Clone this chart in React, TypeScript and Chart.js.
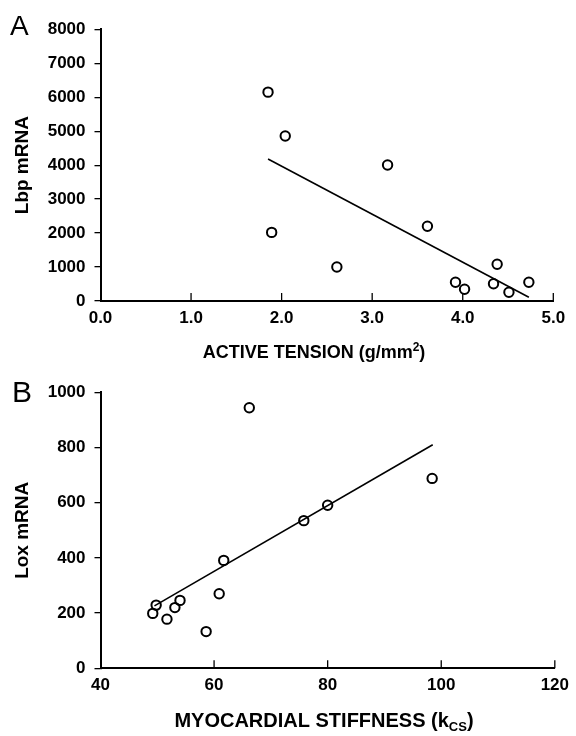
import React, { useEffect, useRef } from "react";
import { Chart, registerables } from "chart.js";

Chart.register(...registerables);

const FONT = '"Liberation Sans", Arial, Helvetica, sans-serif';

// Panel A: Lbp mRNA vs active tension
const tensionX = [1.85, 2.04, 1.89, 2.61, 3.17, 3.61, 3.92, 4.02, 4.34, 4.38, 4.51, 4.73];
const lbpY = [6150, 4860, 2020, 1000, 4005, 2200, 550, 345, 510, 1080, 256, 550];
const trendAX = [1.85, 4.73];
const trendAY = [4180, 110];
const xTicksA = [0, 1, 2, 3, 4, 5];
const yTicksA = [0, 1000, 2000, 3000, 4000, 5000, 6000, 7000, 8000];

// Panel B: Lox mRNA vs myocardial stiffness
const stiffX = [66.2, 98.4, 80.0, 75.8, 61.7, 60.9, 58.6, 49.8, 49.2, 51.7, 53.1, 54.0];
const loxY = [944, 688, 591, 535, 391, 270, 133, 229, 199, 178, 220, 246];
const trendBX = [49.5, 98.5];
const trendBY = [226, 810];
const xTicksB = [40, 60, 80, 100, 120];
const yTicksB = [0, 200, 400, 600, 800, 1000];

type Part = { text: string; size: number; dy: number };

type Spec = {
  xs: number[];
  ys: number[];
  tx: number[];
  ty: number[];
  xTicks: number[];
  yTicks: number[];
  xFmt: (v: number) => string;
  letter: string;
  letterSize: number;
  letterX: number;
  letterY: number;
  yTitle: string;
  xTitle: Part[];
  xTitleCenter: number;
  xTitleBaseline: number;
  area: { left: number; top: number; right: number; bottom: number };
  height: number;
};

function makePlugin(spec: Spec) {
  return {
    id: "annot",
    afterDraw(chart: any) {
      const ctx = chart.ctx as CanvasRenderingContext2D;
      const xs = chart.scales.x;
      const area = chart.chartArea;
      ctx.save();
      ctx.strokeStyle = "#000";
      ctx.fillStyle = "#000";
      ctx.lineWidth = 1.3;
      xs.ticks.forEach((t: any, i: number) => {
        if (i === 0) return;
        const px = xs.getPixelForValue(t.value);
        ctx.beginPath();
        ctx.moveTo(px, area.bottom);
        ctx.lineTo(px, area.bottom - 8);
        ctx.stroke();
      });
      ctx.font = `${spec.letterSize}px ${FONT}`;
      ctx.textAlign = "left";
      ctx.textBaseline = "alphabetic";
      ctx.fillText(spec.letter, spec.letterX, spec.letterY);

      ctx.save();
      ctx.translate(28, (area.top + area.bottom) / 2);
      ctx.rotate(-Math.PI / 2);
      ctx.font = `bold 19px ${FONT}`;
      ctx.textAlign = "center";
      ctx.fillText(spec.yTitle, 0, 0);
      ctx.restore();

      let total = 0;
      const widths = spec.xTitle.map((p) => {
        ctx.font = `bold ${p.size}px ${FONT}`;
        const w = ctx.measureText(p.text).width;
        total += w;
        return w;
      });
      let x = spec.xTitleCenter - total / 2;
      ctx.textAlign = "left";
      spec.xTitle.forEach((p, i) => {
        ctx.font = `bold ${p.size}px ${FONT}`;
        ctx.fillText(p.text, x, spec.xTitleBaseline + p.dy);
        x += widths[i];
      });
      ctx.restore();
    },
  };
}

function buildChart(canvas: HTMLCanvasElement, spec: Spec) {
  const tickFont = { family: FONT, size: 17, weight: "bold" as const };
  return new Chart(canvas, {
    type: "scatter",
    data: {
      datasets: [
        {
          data: spec.tx.map((v, i) => ({ x: v, y: spec.ty[i] })),
          showLine: true,
          borderColor: "#000",
          borderWidth: 1.6,
          pointRadius: 0,
          fill: false,
        },
        {
          data: spec.xs.map((v, i) => ({ x: v, y: spec.ys[i] })),
          pointRadius: 4.7,
          pointBorderWidth: 2,
          pointBorderColor: "#000",
          pointBackgroundColor: "rgba(0,0,0,0)",
          pointStyle: "circle",
        },
      ],
    },
    options: {
      animation: false,
      responsive: false,
      devicePixelRatio: 1,
      layout: {
        padding: {
          top: spec.area.top,
          left: 0,
          right: 576 - spec.area.right,
          bottom: 0,
        },
      },
      plugins: { legend: { display: false }, tooltip: { enabled: false } },
      scales: {
        x: {
          type: "linear",
          min: spec.xTicks[0],
          max: spec.xTicks[spec.xTicks.length - 1],
          afterBuildTicks: (s: any) => {
            s.ticks = spec.xTicks.map((v) => ({ value: v }));
          },
          ticks: {
            font: tickFont,
            color: "#000",
            padding: 7,
            maxRotation: 0,
            autoSkip: false,
            callback: (v: any) => spec.xFmt(Number(v)),
          },
          grid: { display: false, drawTicks: false },
          border: { display: true, color: "#000", width: 2 },
          afterFit: (s: any) => {
            s.height = spec.height - spec.area.bottom;
          },
        },
        y: {
          type: "linear",
          min: spec.yTicks[0],
          max: spec.yTicks[spec.yTicks.length - 1],
          afterBuildTicks: (s: any) => {
            s.ticks = spec.yTicks.map((v) => ({ value: v }));
          },
          ticks: {
            font: tickFont,
            color: "#000",
            padding: 9,
            autoSkip: false,
            callback: (v: any) => String(v),
          },
          grid: {
            display: true,
            drawOnChartArea: false,
            drawTicks: true,
            tickLength: 6,
            color: "#000",
            lineWidth: 1.3,
          },
          border: { display: true, color: "#000", width: 2 },
          afterFit: (s: any) => {
            s.width = spec.area.left;
          },
        },
      },
    },
    plugins: [makePlugin(spec)],
  } as any);
}

const H = 368;

const specA: Spec = {
  xs: tensionX,
  ys: lbpY,
  tx: trendAX,
  ty: trendAY,
  xTicks: xTicksA,
  yTicks: yTicksA,
  xFmt: (v) => v.toFixed(1),
  letter: "A",
  letterSize: 28,
  letterX: 10,
  letterY: 35,
  yTitle: "Lbp mRNA",
  xTitle: [
    { text: "ACTIVE TENSION (g/mm", size: 18, dy: 0 },
    { text: "2", size: 12, dy: -7 },
    { text: ")", size: 18, dy: 0 },
  ],
  xTitleCenter: 314,
  xTitleBaseline: 358,
  area: { left: 100.5, top: 29.3, right: 553.3, bottom: 301 },
  height: H,
};

const specB: Spec = {
  xs: stiffX,
  ys: loxY,
  tx: trendBX,
  ty: trendBY,
  xTicks: xTicksB,
  yTicks: yTicksB,
  xFmt: (v) => String(v),
  letter: "B",
  letterSize: 30,
  letterX: 12,
  letterY: 33.7,
  yTitle: "Lox mRNA",
  xTitle: [
    { text: "MYOCARDIAL STIFFNESS (k", size: 20, dy: 0 },
    { text: "CS", size: 13, dy: 4 },
    { text: ")", size: 20, dy: 0 },
  ],
  xTitleCenter: 324,
  xTitleBaseline: 358.7,
  area: { left: 100.5, top: 24.3, right: 559.3, bottom: 300.3 },
  height: H,
};

export default function App() {
  const refA = useRef<HTMLCanvasElement | null>(null);
  const refB = useRef<HTMLCanvasElement | null>(null);

  useEffect(() => {
    const a = refA.current ? buildChart(refA.current, specA) : null;
    const b = refB.current ? buildChart(refB.current, specB) : null;
    return () => {
      a?.destroy();
      b?.destroy();
    };
  }, []);

  return (
    <div
      style={{
        position: "absolute",
        left: 0,
        top: 0,
        width: 576,
        height: 736,
        background: "#fff",
      }}
    >
      <canvas
        ref={refA}
        width={576}
        height={H}
        style={{ position: "absolute", left: 0, top: 0, width: 576, height: H }}
      />
      <canvas
        ref={refB}
        width={576}
        height={H}
        style={{ position: "absolute", left: 0, top: H, width: 576, height: H }}
      />
    </div>
  );
}
